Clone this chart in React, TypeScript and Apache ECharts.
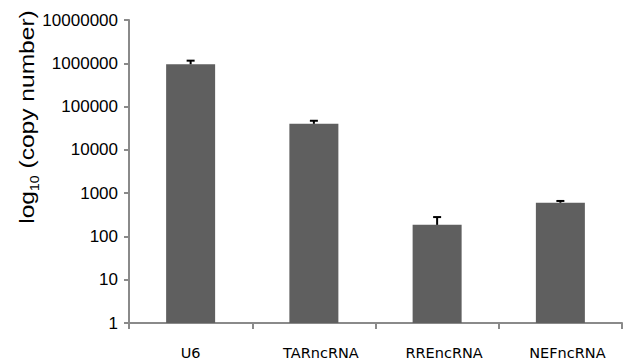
import React, { useEffect, useRef } from "react";
import * as echarts from "echarts";

const categories = ["U6", "TARncRNA", "RREncRNA", "NEFncRNA"];
const meanValues = [950000, 40000, 185, 600];
const errorHigh = [1150000, 47000, 280, 660];

export default function App() {
  const ref = useRef<HTMLDivElement>(null);
  useEffect(() => {
    if (!ref.current) return;
    const chart = echarts.init(ref.current, null, { renderer: "svg" });
    const axisColor = "#8a8a8a";
    const labelFont = { color: "#000", fontFamily: "DejaVu Sans", fontSize: 14.5 };
    chart.setOption({
      animation: false,
      backgroundColor: "#ffffff",
      grid: { left: 129, right: 17, top: 20, bottom: 37, containLabel: false },
      xAxis: {
        type: "category",
        data: categories,
        axisLine: { lineStyle: { color: axisColor, width: 2 } },
        axisTick: { show: true, interval: 0, length: 6, lineStyle: { color: axisColor, width: 2 } },
        axisLabel: {
          interval: 0,
          hideOverlap: false,
          margin: 22,
          ...labelFont,
          formatter: (v: string, i: number) => (i === 0 ? `{a|${v}}` : `{b|${v}}`),
          rich: {
            a: { ...labelFont },
            b: { ...labelFont, padding: [0, 0, 0, 14] },
          },
        },
      },
      yAxis: {
        type: "log",
        logBase: 10,
        min: 1,
        max: 10000000,
        splitLine: { show: false },
        axisLine: { show: true, lineStyle: { color: axisColor, width: 2 } },
        axisTick: { show: true, length: 5, lineStyle: { color: axisColor, width: 2 } },
        axisLabel: {
          margin: 11,
          color: "#000",
          fontFamily: "Liberation Sans",
          fontSize: 17,
          formatter: (v: number) => String(Math.round(v)),
        },
      },
      graphic: [
        {
          type: "text",
          x: 27,
          y: 117,
          rotation: Math.PI / 2,
          scaleX: 1.17,
          style: {
            text: "{a|log}{s|10}{a| (copy number)}",
            align: "center",
            verticalAlign: "middle",
            fill: "#000",
            rich: {
              a: { fontSize: 21, fontFamily: "Liberation Sans", lineHeight: 24, fill: "#000" },
              s: {
                fontSize: 12,
                fontFamily: "Liberation Sans",
                lineHeight: 12,
                padding: [16, 0, 0, 0],
                fill: "#000",
              },
            },
          },
        },
      ],
      series: [
        {
          type: "bar",
          data: meanValues,
          barWidth: 49,
          itemStyle: { color: "#5f5f5f" },
        },
        {
          type: "custom",
          data: categories.map((c, i) => [i, meanValues[i], errorHigh[i]]),
          z: 10,
          renderItem: (params: any, api: any) => {
            const base = api.coord([api.value(0), api.value(1)]);
            const top = api.coord([api.value(0), api.value(2)]);
            const style = { stroke: "#000", lineWidth: 2 };
            return {
              type: "group",
              children: [
                { type: "line", shape: { x1: base[0], y1: base[1], x2: base[0], y2: top[1] }, style },
                { type: "line", shape: { x1: base[0] - 4, y1: top[1], x2: base[0] + 4, y2: top[1] }, style },
              ],
            };
          },
        },
      ],
    });
    return () => chart.dispose();
  }, []);
  return <div ref={ref} style={{ width: 639, height: 360, position: "absolute", left: 0, top: 0 }} />;
}
